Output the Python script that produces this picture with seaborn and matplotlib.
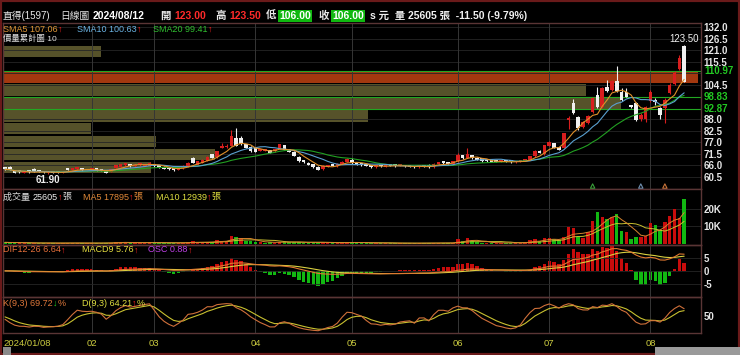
import numpy as np
import pandas as pd
import matplotlib
matplotlib.use("Agg")
import matplotlib.pyplot as plt
from matplotlib.patches import Rectangle
import seaborn as sns

# 直得(1597) 日線 2024/01/08 ~ 2024/08/12
opens = [64.8, 65.3, 63.4, 63.0, 62.4, 62.8, 64.0, 63.0, 63.2, 62.3, 62.6, 63.2, 62.5, 64.5, 63.8, 64.0, 64.5, 63.5,
         63.6, 64.4, 63.6, 63.2, 62.6, 64.7, 65.0, 66.0, 66.6, 65.4, 66.0, 65.8, 65.4,
         66.6, 66.0, 65.3, 64.8, 64.6, 63.8, 64.5, 65.4, 69.3, 66.2, 67.2, 68.2, 71.2, 69.8, 74.3, 74.5, 75.4, 79.2, 78.8, 76.0,
         74.8, 74.0, 72.8, 73.0, 73.2, 72.6, 73.8, 75.6, 73.6, 72.4, 70.0, 68.4, 67.2, 66.4, 65.3, 64.0, 65.4, 66.4, 65.4, 66.6,
         67.6, 68.4, 67.3, 66.8, 66.4, 66.0, 65.0, 66.0, 65.3, 66.1, 65.6, 65.7, 66.0, 65.9, 65.6, 65.0, 66.0, 66.0, 64.9, 66.6, 67.8, 67.4, 66.8,
         67.8, 70.8, 69.4, 70.9, 69.6, 69.2, 68.7, 68.7, 68.2, 67.6, 68.2, 68.4, 67.3, 67.6, 68.2, 68.6, 70.2, 72.9, 71.4,
         75.2, 76.6, 74.7, 74.2, 87.5, 95.7, 89.2, 84.4, 86.0, 91.6, 99.6, 94.0, 103.6, 102.0, 106.4, 101.2, 100.8, 94.5, 95.8, 88.0, 88.0,
         96.5, 97.0, 93.4, 93.5, 100.5, 105.0, 112.0, 123.0]
highs = [65.0, 65.8, 63.6, 63.2, 63.0, 63.0, 64.7, 63.2, 63.4, 62.8, 62.8, 63.4, 63.0, 64.7, 64.5, 64.7, 64.6, 63.8,
         64.0, 64.6, 63.8, 63.3, 64.2, 66.2, 66.8, 67.0, 66.8, 66.4, 66.6, 66.7, 67.6,
         66.8, 66.2, 65.4, 65.0, 64.8, 65.4, 66.0, 67.3, 69.8, 68.0, 68.8, 70.2, 71.4, 73.0, 76.5, 76.0, 82.8, 84.0, 79.8, 76.3,
         75.0, 74.2, 73.8, 73.6, 73.4, 73.8, 76.2, 75.8, 73.8, 72.6, 70.2, 68.6, 67.4, 66.6, 65.5, 65.9, 66.3, 66.6, 67.0, 67.9,
         69.6, 69.4, 67.5, 67.0, 66.6, 66.2, 66.0, 66.2, 66.3, 66.3, 65.9, 65.9, 66.2, 66.1, 65.8, 66.1, 66.2, 66.6, 67.0, 67.6, 68.0, 67.6, 68.1,
         71.7, 71.0, 74.0, 71.1, 69.8, 69.4, 68.9, 68.9, 68.4, 68.2, 68.4, 68.6, 67.8, 68.2, 68.8, 70.6, 73.1, 73.4, 75.8,
         77.5, 76.8, 74.9, 81.6, 89.3, 97.5, 89.5, 87.2, 89.8, 98.4, 103.6, 103.5, 106.8, 106.8, 113.5, 103.0, 103.0, 95.0, 96.0, 91.0, 94.5,
         102.0, 98.0, 94.0, 98.0, 105.5, 111.0, 118.5, 123.5]
lows = [63.8, 63.5, 62.2, 62.4, 62.3, 62.4, 62.8, 62.5, 62.3, 61.9, 62.1, 62.3, 62.4, 63.6, 63.6, 63.9, 63.3, 63.3,
        63.4, 63.4, 63.2, 62.2, 62.5, 64.6, 64.9, 65.8, 65.3, 65.2, 65.8, 65.7, 65.3,
        65.2, 64.8, 64.0, 63.8, 63.3, 63.7, 64.4, 65.3, 67.0, 66.0, 67.0, 68.0, 69.3, 69.6, 74.0, 74.2, 75.2, 75.2, 75.8, 74.0,
        72.5, 72.2, 72.6, 72.8, 71.6, 72.4, 73.6, 73.2, 72.2, 70.4, 67.6, 67.1, 66.0, 64.7, 63.6, 63.8, 65.2, 65.5, 65.2, 66.4,
        67.4, 66.8, 66.0, 65.8, 65.4, 64.7, 64.8, 65.2, 65.1, 65.4, 65.3, 65.5, 65.2, 65.1, 64.7, 64.8, 65.2, 64.8, 64.7, 66.4, 66.7, 66.4, 66.6,
        67.6, 69.0, 69.2, 69.0, 68.4, 67.7, 67.7, 67.3, 67.4, 67.4, 67.4, 67.1, 67.1, 67.4, 68.0, 68.4, 70.0, 71.6, 71.0,
        75.0, 74.0, 73.2, 74.0, 83.5, 90.5, 82.8, 84.0, 85.6, 91.2, 93.6, 93.5, 101.2, 101.6, 101.2, 96.5, 98.4, 93.6, 87.2, 87.0, 86.5,
        96.0, 95.0, 88.0, 86.0, 100.0, 104.5, 111.5, 106.0]
closes = [64.0, 63.7, 62.4, 62.6, 62.8, 62.6, 63.0, 62.8, 62.5, 62.6, 62.4, 62.5, 62.8, 63.8, 64.3, 64.5, 63.5, 63.6,
          63.8, 63.6, 63.4, 62.4, 64.0, 66.0, 66.5, 66.7, 65.4, 66.2, 66.4, 66.5, 67.1,
          65.4, 65.0, 64.2, 64.0, 63.5, 65.2, 65.8, 67.1, 67.2, 67.8, 68.6, 70.0, 69.5, 72.7, 75.2, 75.3, 80.0, 75.4, 76.3, 74.2,
          72.7, 72.4, 73.6, 73.4, 71.8, 73.6, 75.9, 73.4, 72.4, 70.6, 67.8, 67.3, 66.2, 64.9, 63.8, 65.7, 66.1, 65.7, 66.8, 67.7,
          69.0, 67.0, 66.2, 66.0, 65.6, 64.9, 65.8, 65.4, 66.1, 65.6, 65.5, 65.7, 65.4, 65.3, 64.9, 65.9, 65.4, 65.0, 66.8, 67.4, 66.9, 66.6, 67.9,
          71.0, 69.2, 71.5, 69.2, 68.6, 67.9, 67.9, 67.5, 67.6, 68.0, 67.6, 67.3, 67.6, 68.0, 68.6, 70.4, 72.9, 71.8, 75.6,
          77.0, 74.3, 73.4, 81.4, 88.5, 91.0, 83.8, 86.8, 89.5, 98.0, 94.0, 102.8, 101.6, 106.4, 101.6, 97.0, 98.8, 94.0, 87.7, 90.0, 94.0,
          101.0, 96.0, 90.0, 97.3, 104.5, 110.0, 117.5, 106.0]
volumes = [900, 800, 700, 500, 400, 400, 600, 400, 500, 600, 400, 500, 400, 700, 500, 600, 500, 400,
           400, 500, 400, 800, 600, 1200, 1000, 800, 600, 700, 600, 700, 900,
           700, 600, 600, 500, 600, 700, 700, 900, 1500, 800, 900, 1000, 1200, 2300, 1800, 1500, 4700, 4200, 3300, 1800,
           1500, 1200, 900, 800, 900, 800, 1400, 1200, 900, 1000, 1100, 800, 700, 900, 1000, 800, 600, 500, 600, 800,
           1200, 900, 700, 600, 500, 600, 500, 400, 500, 400, 400, 400, 400, 400, 500, 500, 400, 600, 700, 600, 500, 400, 600,
           2700, 1500, 3600, 1500, 1000, 800, 700, 600, 600, 500, 500, 600, 800, 800, 1000, 2000, 2600, 1500, 3200,
           3500, 2600, 2000, 4200, 9900, 9000, 4200, 3200, 7000, 13100, 18100, 15600, 14300, 15200, 17100, 7200, 6700, 2900, 4100, 4100, 4700,
           12200, 10900, 8000, 12800, 16200, 20200, 14700, 25605]

month_idx = [0, 18, 31, 52, 72, 94, 113, 134]
month_labels = ["2024/01/08", "02", "03", "04", "05", "06", "07", "08"]

price_ticks = [132.0, 126.5, 121.0, 115.5, 104.5, 88.0, 82.5, 77.0, 71.5, 66.0, 60.5]
level_lines = [110.97, 98.83, 92.87]

# 價量累計圖 10 (10 price bins, relative accumulated volume)
profile_low, profile_high = 61.90, 123.50
profile_share = [21.3, 30.5, 22.0, 12.7, 52.5, 88.9, 83.9, 100.0, 0.0, 14.1]

signal_idx = [122, 132, 137]
signal_colors = ["#3aa03a", "#6f8fb0", "#c8743a"]

n = len(closes)
df = pd.DataFrame({"i": np.arange(n), "o": opens, "h": highs, "l": lows, "c": closes, "v": volumes})
df["sma5"] = df.c.rolling(5, min_periods=1).mean()
df["sma10"] = df.c.rolling(10, min_periods=1).mean()
df["sma20"] = df.c.rolling(20, min_periods=1).mean()
df["vma5"] = df.v.rolling(5, min_periods=1).mean()
df["vma10"] = df.v.rolling(10, min_periods=1).mean()
ema12 = df.c.ewm(span=12, adjust=False).mean()
ema26 = df.c.ewm(span=26, adjust=False).mean()
df["dif"] = ema12 - ema26
df["macd"] = df.dif.ewm(span=9, adjust=False).mean()
df["osc"] = df.dif - df.macd
low9 = df.l.rolling(9, min_periods=1).min()
high9 = df.h.rolling(9, min_periods=1).max()
rsv = ((df.c - low9) / (high9 - low9) * 100).fillna(50)
k_vals, d_vals = [], []
k, d = 50.0, 50.0
for r in rsv:
    k = k * 2 / 3 + r / 3
    d = d * 2 / 3 + k / 3
    k_vals.append(k)
    d_vals.append(d)
df["k"] = k_vals
df["d"] = d_vals

sns.set_theme(style="dark", rc={"axes.facecolor": "black", "figure.facecolor": "black",
                                "axes.edgecolor": "#5a3535", "axes.linewidth": 1.0})
plt.rcParams["font.family"] = ["Liberation Sans", "Noto Sans CJK TC", "DejaVu Sans"]

W, H = 740, 355
fig = plt.figure(figsize=(7.4, 3.55), dpi=100)
renderer = fig.canvas.get_renderer()

RED, GRN, WHITE = "#d81e1e", "#12b812", "#f0f0f0"
XL = (-0.42, 144.5)


def rect(top, bottom, left=3, right=701):
    return [left / W, 1 - bottom / H, (right - left) / W, (bottom - top) / H]


def chain(x, y, parts, size=6.5, weight="normal"):
    for part in parts:
        s, c = part[0], part[1]
        kw = {}
        if len(part) > 2:
            kw["bbox"] = dict(facecolor=part[2], edgecolor="none", pad=0.8)
        t = fig.text(x / W, 1 - y / H, s, color=c, fontsize=size, fontweight=weight,
                     ha="left", va="center", **kw)
        x += t.get_window_extent(renderer).width


def style_axis(ax, ticks, labels, ylim):
    ax.set_xlim(*XL)
    ax.set_ylim(*ylim)
    ax.set_xticks([])
    ax.yaxis.tick_right()
    ax.set_yticks(ticks, labels=labels)
    ax.tick_params(axis="y", length=0, pad=2, labelsize=7, labelcolor="#e6e6e6")
    for lb in ax.get_yticklabels():
        lb.set_fontweight("bold")
    ax.set_xlabel("")
    ax.set_ylabel("")
    for sp in ax.spines.values():
        sp.set_color("#5a3535")
    for m in month_idx[1:]:
        ax.axvline(m, color="#363636", lw=0.7, zorder=0)


def line(ax, col, color, lw=0.8):
    sns.lineplot(data=df, x="i", y=col, ax=ax, color=color, linewidth=lw, legend=False, zorder=4)


up_day = df.c >= df.o
cand_col = np.where(up_day, RED, WHITE)
prev_c = df.c.shift(1).fillna(df.o)
vol_col = np.where(df.c >= prev_c, "#c80c0c", GRN)

# ---- price panel with volume profile behind
PTOP, PBOT = 23.3, 189
ax_prof = fig.add_axes(rect(PTOP, PBOT))
ax_p = fig.add_axes(rect(PTOP, PBOT), sharey=ax_prof)
ax_p.set_facecolor("none")
bin_h = (profile_high - profile_low) / len(profile_share)
bin_centers = profile_low + bin_h * (np.arange(len(profile_share)) + 0.5)
cur_bin = int((closes[-1] - profile_low) // bin_h)
prof_col = ["#a3380f" if j == cur_bin else "#56522a" for j in range(len(profile_share))]
ax_prof.barh(bin_centers, profile_share, height=bin_h * 0.9, color=prof_col, linewidth=0)
ax_prof.set_xlim(0, 100.43)
ax_prof.set_xticks([])
ax_prof.tick_params(axis="y", length=0, labelleft=False)
for sp in ax_prof.spines.values():
    sp.set_visible(False)

for t in price_ticks + [110.0]:
    ax_p.axhline(t, color="#262626", lw=0.6, zorder=0)
for lv in level_lines:
    ax_p.axhline(lv, color="#22a822", lw=0.8, zorder=2)
    ax_p.text(1 + 3 / 698, lv, f"{lv:.2f}", transform=ax_p.get_yaxis_transform(), color="#22c822",
              fontsize=7, fontweight="bold", va="center", ha="left")

ax_p.vlines(df.i, df.l, df.h, colors=cand_col, linewidth=0.8, zorder=3)
body_bottom = np.minimum(df.o, df.c)
body_h = np.maximum((df.c - df.o).abs(), 0.9)
ax_p.bar(df.i, body_h, bottom=body_bottom, width=0.75, color=cand_col, linewidth=0, zorder=3)
line(ax_p, "sma20", "#22a022")
line(ax_p, "sma10", "#5aa0d0")
line(ax_p, "sma5", "#e0902a")
style_axis(ax_p, price_ticks, [f"{t:.1f}" for t in price_ticks], (54.6, 133.9))
ax_p.scatter(signal_idx, [56.0] * len(signal_idx), marker="^", s=10, facecolors="none",
             edgecolors=signal_colors, linewidths=0.8, zorder=5)
hi_i = int(np.argmax(highs))
lo_i = int(np.argmin(lows))
ax_p.annotate(f"{highs[hi_i]:.2f}", (hi_i, highs[hi_i]), xytext=(0, 0.5), textcoords="offset points",
              ha="center", va="bottom", color=WHITE, fontsize=7)
ax_p.annotate(f"{lows[lo_i]:.2f}", (lo_i, lows[lo_i]), xytext=(0, -1), textcoords="offset points",
              ha="center", va="top", color=WHITE, fontsize=7, fontweight="bold")

# ---- volume panel
ax_v = fig.add_axes(rect(PBOT, 245))
ax_v.bar(df.i, df.v, width=0.72, color=vol_col, linewidth=0, zorder=2)
line(ax_v, "vma10", "#c8c030", 0.7)
line(ax_v, "vma5", "#d8842e", 0.7)
style_axis(ax_v, [20000, 10000], ["20K", "10K"], (-600, 31400))
for t in [10000, 20000]:
    ax_v.axhline(t, color="#262626", lw=0.6, zorder=0)

# ---- MACD panel
ax_m = fig.add_axes(rect(245, 296.7))
ax_h = ax_m.twinx()
osc_max = df.osc.abs().max()
ax_h.bar(df.i, df.osc, width=0.72, color=np.where(df.osc >= 0, "#c80c0c", GRN), linewidth=0)
ax_h.set_ylim(-osc_max * 10 / 9.5, osc_max * 10 / 9.5)
ax_h.set_xlim(*XL)
ax_h.axis("off")
ax_m.set_zorder(ax_h.get_zorder() + 1)
ax_m.set_facecolor("none")
ax_h.set_facecolor("black")
line(ax_m, "macd", "#d8d040")
line(ax_m, "dif", "#e07830")
style_axis(ax_m, [5, 0, -5], ["5", "0", "-5"], (-10, 10))
for t in [5, 0, -5]:
    ax_m.axhline(t, color="#262626", lw=0.6, zorder=0)

# ---- KD panel
ax_k = fig.add_axes(rect(296.7, 332.7))
line(ax_k, "d", "#c8c030")
line(ax_k, "k", "#d0703a")
style_axis(ax_k, [50], ["50"], (-2, 108))
for j, (m, lab) in enumerate(zip(month_idx, month_labels)):
    ax_k.text(m - 0.4 if j == 0 else m, -0.29, lab, transform=ax_k.get_xaxis_transform(),
              ha="left" if j == 0 else "center", va="center", color="#cccc40", fontsize=6.8)

# ---- texts
chain(3, 16, [("直得(1597)", "#e8e8e8")], size=7)
chain(60, 16, [("日線圖", "#e8e8e8")], size=7)
chain(93, 16, [("2024/08/12", "#ffffff")], size=7.5, weight="bold")
chain(161, 16, [("開 ", "#e8e8e8"), ("123.00", "#ff2a2a")], size=7.5, weight="bold")
chain(216, 16, [("高 ", "#e8e8e8"), ("123.50", "#ff2a2a")], size=7.5, weight="bold")
chain(266, 16, [("低 ", "#e8e8e8"), ("106.00", "#ffffff", "#10b810")], size=7.5, weight="bold")
chain(319, 16, [("收 ", "#e8e8e8"), ("106.00", "#ffffff", "#10b810")], size=7.5, weight="bold")
chain(370, 16, [("s 元  量 25605 張  -11.50 (-9.79%)", "#f0f0f0")], size=7.5, weight="bold")

chain(3, 29, [("SMA5 107.06", "#e09838"), ("↑", "#ff2020")])
chain(77, 29, [("SMA10 100.63", "#6cb4e4"), ("↑", "#ff2020")])
chain(153, 29, [("SMA20 99.41", "#30c030"), ("↑", "#ff2020")])
chain(3, 39, [("價量累計圖 10", "#e0e0e0")], size=6)

chain(3, 197, [("成交量 ", "#d8d8d8"), ("25605", "#f0f0f0"), ("↑", "#ff2020"), ("張", "#d8d8d8")])
chain(83, 197, [("MA5 17895", "#e08838"), ("↑", "#ff2020"), ("張", "#e08838")])
chain(156, 197, [("MA10 12939", "#e0e040"), ("↑", "#ff2020"), ("張", "#e0e040")])

chain(3, 250, [("DIF12-26 6.64", "#e8703a"), ("↑", "#ff2020")])
chain(82, 250, [("MACD9 5.76", "#e8e040"), ("↑", "#ff2020")])
chain(148, 250, [("OSC 0.88", "#c040e8"), ("↑", "#ff2020")])

chain(3, 303, [("K(9,3) 69.72", "#e0783a"), ("↓", "#20d020"), ("%", "#e0783a")])
chain(82, 303, [("D(9,3) 64.21", "#e0e040"), ("↑", "#ff2020"), ("%", "#e0e040")])

# frame and bottom strip
fig.patches.append(Rectangle((0, 0), 1, 1, transform=fig.transFigure, fill=False,
                             edgecolor="#6a1a1a", linewidth=3))
fig.patches.append(Rectangle((655 / W, 0), 85 / W, 8 / H, transform=fig.transFigure,
                             facecolor="#9a9a9a", edgecolor="none"))
fig.patches.append(Rectangle((3 / W, 0), 8 / W, 8 / H, transform=fig.transFigure,
                             facecolor="#8a8a8a", edgecolor="none"))

fig.savefig("out.png", dpi=100, facecolor="black")
